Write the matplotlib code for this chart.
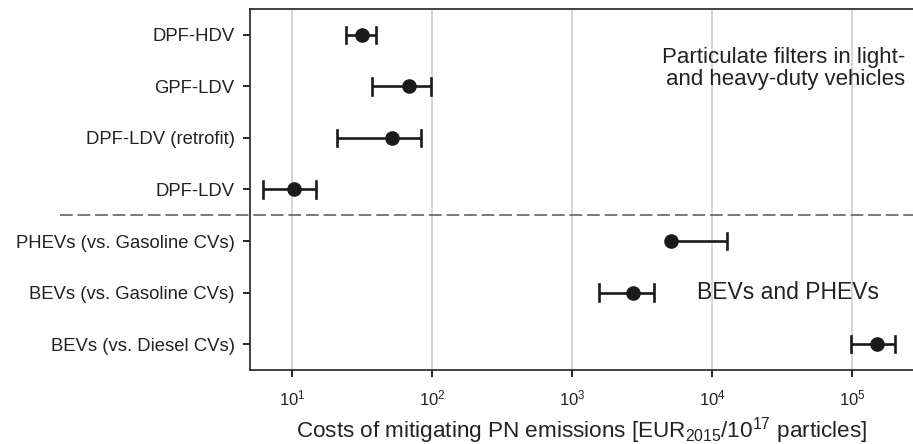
import numpy as np
import matplotlib
matplotlib.use("Agg")
import matplotlib.pyplot as plt

plt.rcParams['font.family'] = ['Liberation Sans', 'DejaVu Sans']
plt.rcParams['mathtext.fontset'] = 'custom'
plt.rcParams['mathtext.rm'] = 'Liberation Sans'
plt.rcParams['mathtext.it'] = 'Liberation Sans:italic'
plt.rcParams['mathtext.bf'] = 'Liberation Sans:bold'

# categories, top to bottom
labels = ["DPF-HDV", "GPF-LDV", "DPF-LDV (retrofit)", "DPF-LDV",
          "PHEVs (vs. Gasoline CVs)", "BEVs (vs. Gasoline CVs)", "BEVs (vs. Diesel CVs)"]
central = [31.6, 68, 52, 10.4, 5100, 2730, 1.5e5]
low = [24.3, 37.3, 20.9, 6.2, 5100, 1560, 9.8e4]
high = [39.6, 99, 83, 14.7, 12900, 3870, 2.04e5]

central = np.array(central)
low = np.array(low)
high = np.array(high)
ypos = np.arange(len(labels))[::-1] + 1

fig = plt.figure(figsize=(9.13, 4.44), dpi=100)
ax = fig.add_axes([0.2738, 0.1667, 0.7262, 0.813])

ax.set_xscale('log')
ax.set_xlim(5.0, 2.73e5)
ax.set_ylim(0.5, 7.5)

ax.grid(True, axis='x', which='major', color='#cccccc', linewidth=1.1)
ax.set_axisbelow(True)

# error bars; PHEV has no lower whisker, so caps are drawn per side
for x, lo, hi, y in zip(central, low, high, ypos):
    ax.plot([lo, hi], [y, y], color='#1a1a1a', lw=1.9, solid_capstyle='butt')
    if lo < x:
        ax.plot([lo, lo], [y - 0.16, y + 0.16], color='#1a1a1a', lw=1.9)
    ax.plot([hi, hi], [y - 0.16, y + 0.16], color='#1a1a1a', lw=1.9)
    ax.plot(x, y, 'o', color='#1a1a1a', markersize=9.5)

# separator between filter group and EV group (y = 3.5)
sep = (3.5 - 0.5) / 7.0
ax.plot([-0.287, 1.0], [sep, sep], transform=ax.transAxes,
        color='#555555', lw=1.1, linestyle=(0, (8.3, 3.2)), clip_on=False)

ax.set_yticks(ypos)
ax.set_yticklabels(labels, fontsize=13.3, color='#222222')
ax.tick_params(axis='y', length=5, width=1.2, pad=6)
ax.tick_params(axis='x', which='major', length=5, width=1.2, labelsize=12, pad=8,
               labelcolor='#222222')
ax.tick_params(axis='x', which='minor', length=0)

ax.spines['right'].set_visible(False)
for s in ['left', 'bottom', 'top']:
    ax.spines[s].set_linewidth(1.2)
    ax.spines[s].set_color('#222222')

ax.set_xlabel(r"Costs of mitigating PN emissions [EUR$_{2015}$/10$^{17}$ particles]",
              fontsize=16.2, labelpad=5, color='#222222')

ax.text(0.988, 0.895, "Particulate filters in light-\nand heavy-duty vehicles",
        transform=ax.transAxes, ha='right', va='top', fontsize=16, color='#222222',
        linespacing=1.05)
ax.text(7800, 2, "BEVs and PHEVs", ha='left', va='center', fontsize=16.5, color='#222222')

fig.savefig("out.png", dpi=100)
